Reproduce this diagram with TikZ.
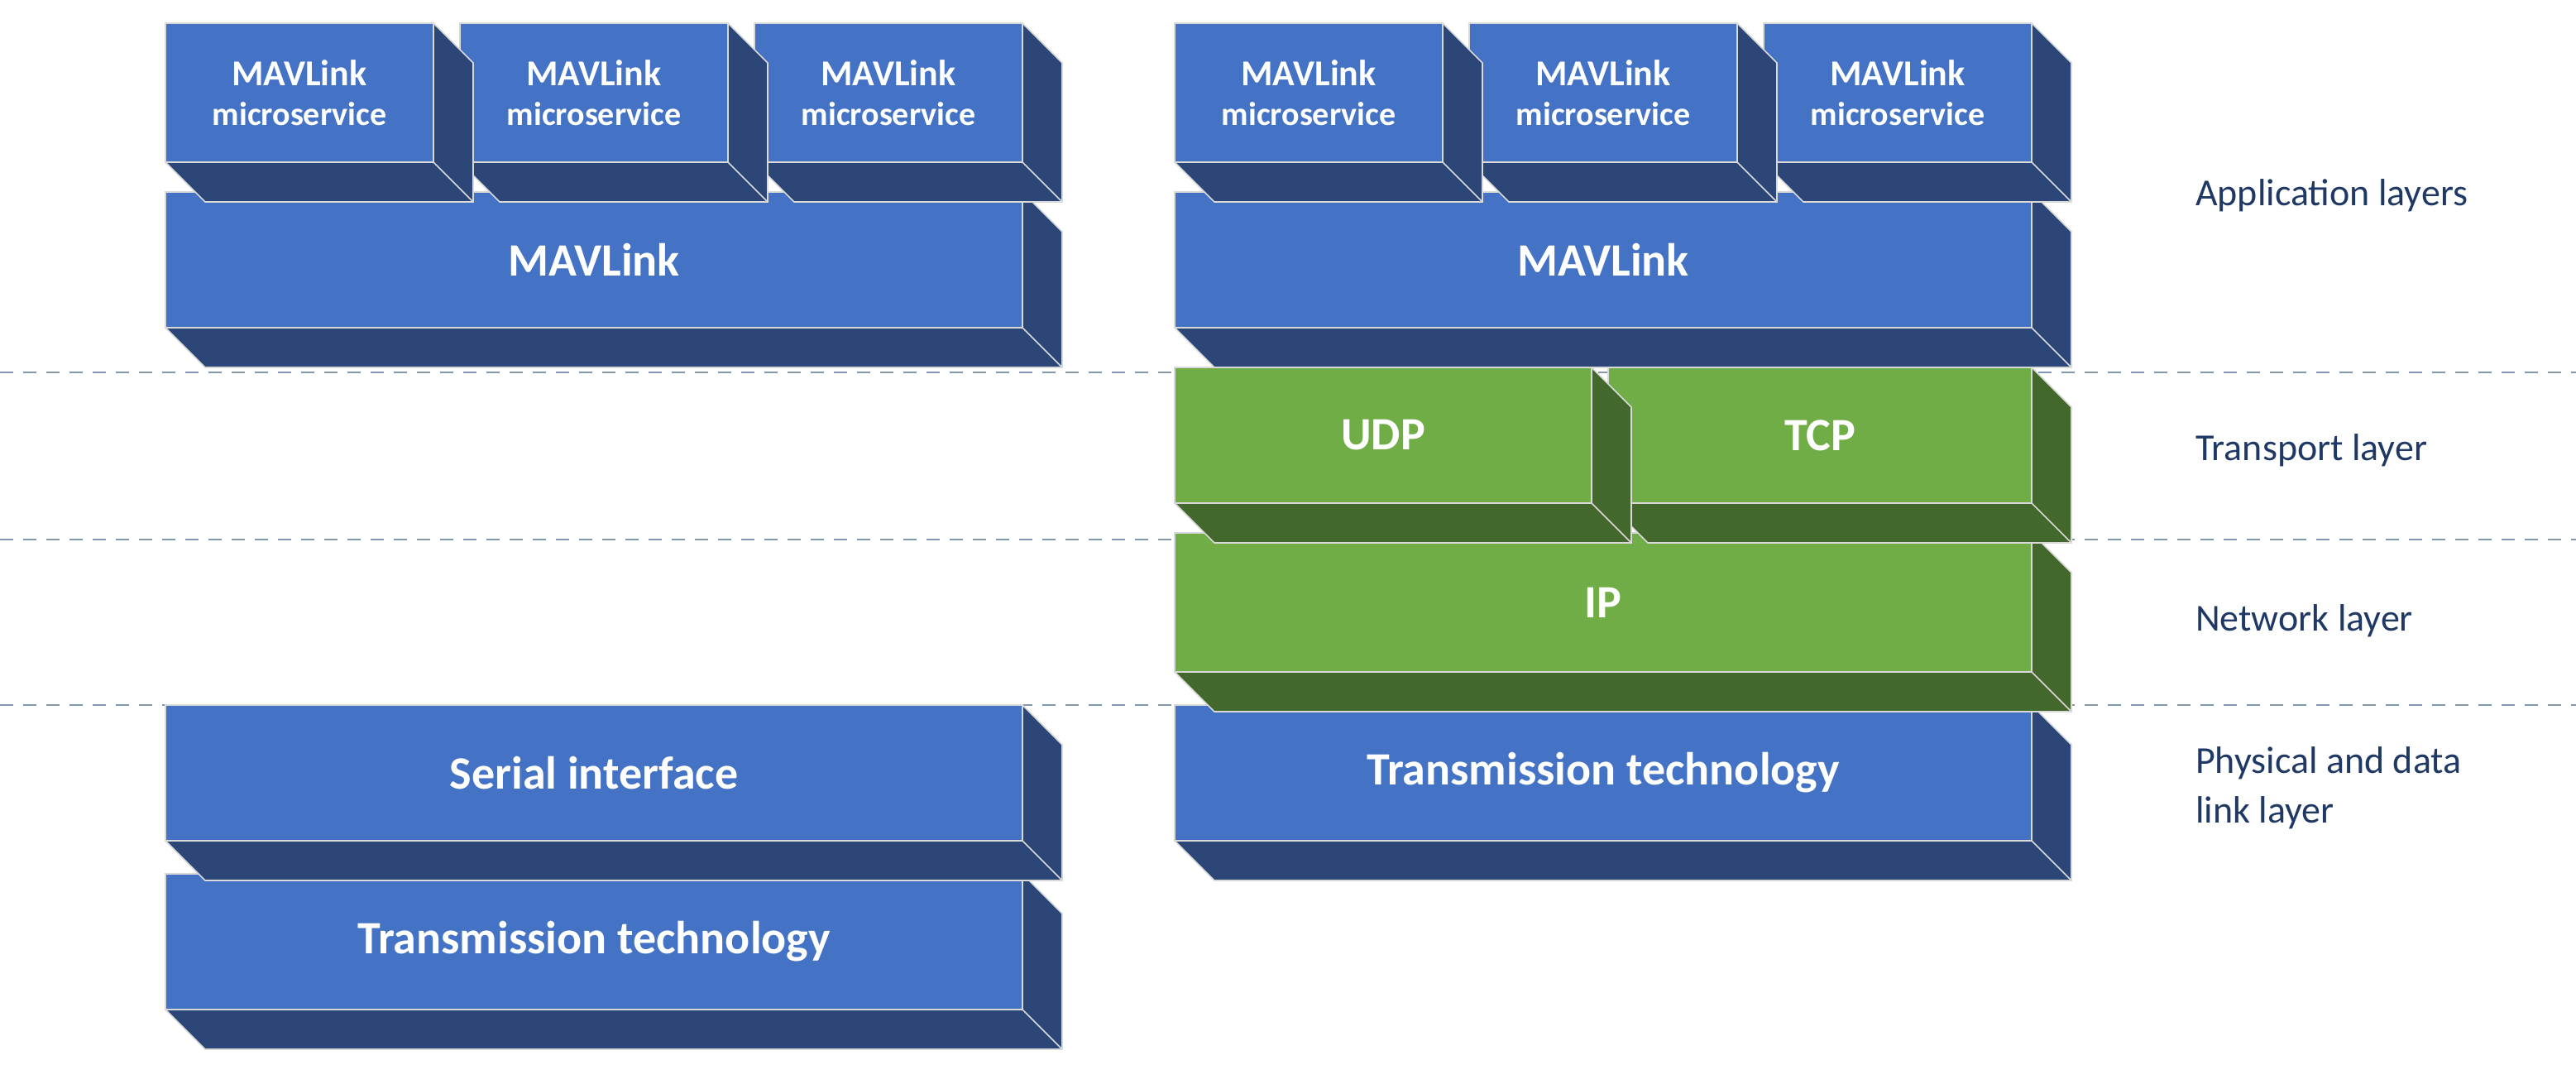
\documentclass[tikz,border=0pt]{standalone}
\usepackage{fontspec}
\setmainfont{Carlito}
\definecolor{bfront}{HTML}{4472C4}
\definecolor{bdark}{HTML}{2C4677}
\definecolor{gfront}{HTML}{70AD47}
\definecolor{gdark}{HTML}{43682B}
\definecolor{labc}{HTML}{1F3864}
\definecolor{dashc}{HTML}{8497B0}
\newcommand{\blk}[8]{%
 \fill[#7,draw=white!70!gray,line width=0.4pt] (#4,#3)--(#4+24,#3+24)--(#4+24,#5+24)--(#2+24,#5+24)--(#2,#5)--cycle;
 \draw[white!70!gray,line width=0.4pt] (#4,#5)--(#4+24,#5+24);
 \node[box,fill=#6,minimum width={(#4-#2)*0.5pt},minimum height={(#5-#3)*0.5pt},anchor=north west] (#1) at (#2,#3) {#8};}
\begin{document}
\begin{tikzpicture}[x=0.5pt,y=-0.5pt,
 box/.style={draw=white!70!gray,line width=0.4pt,text=white,font=\bfseries,align=center,inner sep=0pt,outer sep=0pt},
 small/.style={font=\fontsize{11}{13}\selectfont\bfseries},
 big/.style={font=\fontsize{14}{16}\selectfont\bfseries},
 lab/.style={text=labc,font=\fontsize{11.5}{15}\selectfont,anchor=west,align=left},
 sep/.style={dashc,dashed,line width=0.6pt,dash pattern=on 4pt off 3pt}]
\useasboundingbox (0,0) rectangle (1557,643);
\draw[sep] (0,225) -- (1557,225);
\draw[sep] (0,326) -- (1557,326);
\draw[sep] (0,426) -- (1557,426);
% left column
\blk{lt}{100}{528}{618}{610}{bfront}{bdark}{\fontsize{14}{16}\selectfont\bfseries Transmission technology}
\blk{ser}{100}{426}{618}{508}{bfront}{bdark}{\fontsize{14}{16}\selectfont\bfseries Serial interface}
\blk{lmav}{100}{116}{618}{198}{bfront}{bdark}{\fontsize{14}{16}\selectfont\bfseries MAVLink}
\blk{lm3}{456}{14}{618}{98}{bfront}{bdark}{\fontsize{11}{13}\selectfont\bfseries MAVLink\\microservice}
\blk{lm2}{278}{14}{440}{98}{bfront}{bdark}{\fontsize{11}{13}\selectfont\bfseries MAVLink\\microservice}
\blk{lm1}{100}{14}{262}{98}{bfront}{bdark}{\fontsize{11}{13}\selectfont\bfseries MAVLink\\microservice}
% right column
\blk{rt}{710}{426}{1228}{508}{bfront}{bdark}{\fontsize{14}{16}\selectfont\bfseries Transmission technology}
\blk{ip}{710}{322}{1228}{406}{gfront}{gdark}{\fontsize{14}{16}\selectfont\bfseries IP}
\blk{tcp}{972}{222}{1228}{304}{gfront}{gdark}{\fontsize{14}{16}\selectfont\bfseries TCP}
\blk{udp}{710}{222}{962}{304}{gfront}{gdark}{\fontsize{14}{16}\selectfont\bfseries UDP}
\blk{rmav}{710}{116}{1228}{198}{bfront}{bdark}{\fontsize{14}{16}\selectfont\bfseries MAVLink}
\blk{rm3}{1066}{14}{1228}{98}{bfront}{bdark}{\fontsize{11}{13}\selectfont\bfseries MAVLink\\microservice}
\blk{rm2}{888}{14}{1050}{98}{bfront}{bdark}{\fontsize{11}{13}\selectfont\bfseries MAVLink\\microservice}
\blk{rm1}{710}{14}{872}{98}{bfront}{bdark}{\fontsize{11}{13}\selectfont\bfseries MAVLink\\microservice}
% labels
\node[lab] (l1) at (1320,118) {Application layers};
\node[lab] (l2) at (1320,272) {Transport layer};
\node[lab] (l3) at (1320,375) {Network layer};
\node[lab] (l4) at (1320,476) {Physical and data\\link layer};
\end{tikzpicture}
\end{document}
